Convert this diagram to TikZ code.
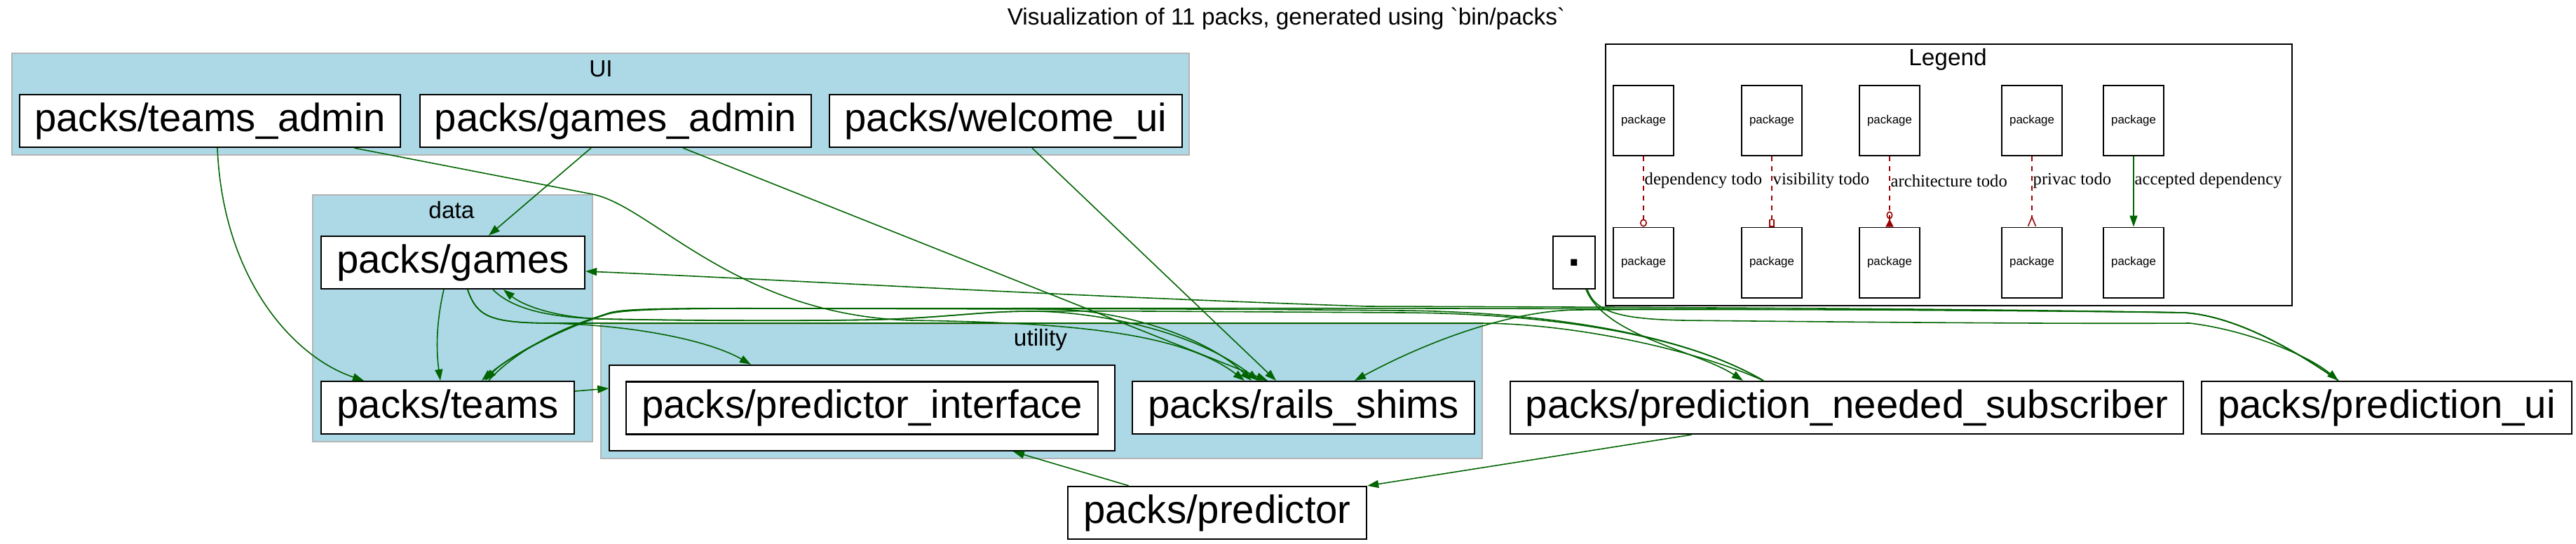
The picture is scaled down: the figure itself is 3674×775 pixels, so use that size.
\documentclass[tikz,border=0pt]{standalone}
\usepackage{fontspec}
\setmainfont{Liberation Sans}
\newfontfamily\legserif{Liberation Serif}
\usetikzlibrary{calc,arrows.meta}
\definecolor{lblue}{HTML}{ADD8E6}
\definecolor{dgreen}{HTML}{006400}
\definecolor{clgray}{HTML}{B4B4B4}
\definecolor{dred}{HTML}{9B0000}
\tikzset{
  pk/.style={draw=black, fill=white, line width=0.6pt, minimum height=0.75cm, inner sep=0pt, font=\fontsize{16}{19}\selectfont},
  lg/.style={draw=black, fill=white, line width=0.55pt, minimum width=0.86cm, minimum height=1.0cm, inner sep=0pt, font=\fontsize{4.8}{6}\selectfont},
  clbox/.style={fill=lblue, draw=clgray, line width=0.6pt},
  cllab/.style={font=\fontsize{9.5}{11}\selectfont, inner sep=0pt},
  tip/.style={-{Triangle[length=0.16cm,width=0.11cm]}},
  dep/.style={draw=dgreen, line width=0.45pt, tip},
  depn/.style={draw=dgreen, line width=0.45pt},
  ldash/.style={draw=dred, line width=0.45pt, dash pattern=on 2pt off 2pt},
  lbl/.style={font=\legserif\fontsize{7}{8}\selectfont, inner sep=0pt, anchor=west},
}
\begin{document}
\begin{tikzpicture}[x=0.01cm, y=-0.01cm]
\useasboundingbox (0,0) rectangle (3674,775);

% title
\node[cllab] (title) at (1834.5,27) {Visualization of 11 packs, generated using \textasciigrave bin/packs\textasciigrave};

% clusters
\draw[clbox] (17,76) rectangle (1696,221);
\node[cllab] (uilab) at (857,98) {UI};
\draw[clbox] (446,278) rectangle (845,630);
\node[cllab] (datalab) at (644,300) {data};
\draw[clbox] (857,462) rectangle (2114,654);
\node[cllab] (utillab) at (1484,485) {utility};

% legend
\draw[draw=black, line width=0.6pt] (2290,63) rectangle (3269,436);
\node[cllab] (leglab) at (2778,85) {Legend};

% nodes
\node[pk, minimum width=5.43cm] (ta) at (299.5,172.5) {packs/teams\_admin};
\node[pk, minimum width=5.58cm] (ga) at (878,172.5) {packs/games\_admin};
\node[pk, minimum width=5.03cm] (wu) at (1434.5,172.5) {packs/welcome\_ui};
\node[pk, minimum width=3.76cm] (games) at (646,374.5) {packs/games};
\node[pk, minimum width=3.61cm] (teams) at (638.5,581.5) {packs/teams};
\node[pk, minimum width=7.20cm, minimum height=1.22cm] (pinto) at (1229.5,582) {};
\node[pk, minimum width=6.73cm] (pint) at (1229.5,582) {packs/predictor\_interface};
\node[pk, minimum width=4.88cm] (rs) at (1859,581.5) {packs/rails\_shims};
\node[pk, minimum width=9.60cm] (pns) at (2634,581.5) {packs/prediction\_needed\_subscriber};
\node[pk, minimum width=5.28cm] (pui) at (3404,581.5) {packs/prediction\_ui};
\node[pk, minimum width=4.26cm] (pred) at (1736,731.5) {packs/predictor};
\node[pk, minimum width=0.60cm, font=\fontsize{18}{20}\selectfont\bfseries] (root) at (2245,374.5) {.};

% legend nodes
\node[lg] (l1t) at (2344,172) {package};
\node[lg] (l2t) at (2527,172) {package};
\node[lg] (l3t) at (2695,172) {package};
\node[lg] (l4t) at (2898,172) {package};
\node[lg] (l5t) at (3043,172) {package};
\node[lg] (l1b) at (2344,374.5) {package};
\node[lg] (l2b) at (2527,374.5) {package};
\node[lg] (l3b) at (2695,374.5) {package};
\node[lg] (l4b) at (2898,374.5) {package};
\node[lg] (l5b) at (3043,374.5) {package};

\draw[ldash, -{Circle[open,length=0.11cm,width=0.1cm]}] (l1t) -- (l1b);
\draw[ldash, -{Square[open,length=0.11cm,width=0.08cm]}] (l2t) -- (l2b);
\draw[ldash, -{Circle[open,length=0.11cm,width=0.09cm] Triangle[reversed,length=0.11cm,width=0.11cm]}] (l3t) -- (l3b);
\draw[ldash, -{Straight Barb[reversed,length=0.13cm,width=0.11cm]}] (l4t) -- (l4b);
\draw[draw=dgreen, line width=0.45pt, tip] (l5t) -- (l5b);
\node[lbl] (e1) at (2345,258) {dependency todo};
\node[lbl] (e2) at (2528,258) {visibility todo};
\node[lbl] (e3) at (2696,258) {architecture todo};
\node[lbl] (e4) at (2899,258) {privac todo};
\node[lbl] (e5) at (3044,258) {accepted dependency};

% edges
\draw[dep] ($(ta.south)+(10.5,0)$) .. controls (318,400) and (420,510) .. ($(teams.north)+(-119.5,0)$);
\draw[dep] ($(ta.south)+(205.5,0)$) -- (845,277) .. controls (930,294) and (1050,450) .. (1300,457) .. controls (1500,460) and (1680,470) .. ($(rs.north)+(-84,0)$);
\draw[dep] ($(ga.south)+(-35,0)$) -- ($(games.north)+(51,0)$);
\draw[dep] ($(ga.south)+(96,0)$) -- ($(rs.north)+(-51,0)$);
\draw[dep] ($(wu.south)+(37.5,0)$) -- ($(rs.north)+(-39,0)$);
\draw[dep] ($(games.south)+(-13,0)$) .. controls (622,460) and (622,500) .. ($(teams.north)+(-10.5,0)$);
\draw[dep] ($(games.south)+(21,0)$) .. controls (680,452) and (700,460) .. (780,461) .. controls (900,463) and (1010,485) .. ($(pinto.north)+(-158.5,0)$);
\draw[depn] ($(games.south)+(21,0)$) .. controls (680,452) and (700,460) .. (780,461) -- (2113,461) .. controls (2250,462) and (2420,500) .. ($(pns.north)+(-119,0)$);
\draw[dep] ($(games.south)+(57,0)$) .. controls (730,440) and (780,453) .. (860,455) .. controls (1000,458) and (1150,458) .. (1250,456) .. controls (1350,453) and (1400,444) .. (1470,444) .. controls (1560,444) and (1700,470) .. ($(rs.north)+(-64,0)$);
\draw[dep] ($(teams.north)+(58.5,0)$) .. controls (730,505) and (800,465) .. (870,447) .. controls (900,440) and (1000,440) .. (1100,440) -- (1500,441) .. controls (1600,442) and (1720,480) .. ($(rs.north)+(-74,0)$);
\draw[dep] ($(pns.north)+(-119,0)$) .. controls (2400,475) and (2200,447) .. (2000,446) .. controls (1800,445) and (1560,443) .. (1470,444) .. controls (1400,444) and (1350,453) .. (1250,456) .. controls (1150,458) and (950,457) .. (860,455) .. controls (790,453) and (745,435) .. ($(games.south)+(72,0)$);
\draw[dep] ($(pns.north)+(-119,0)$) .. controls (2400,475) and (2200,445) .. (2000,443) .. controls (1700,440) and (1300,440) .. (1100,440) .. controls (1000,440) and (900,440) .. (870,447) .. controls (800,468) and (725,510) .. ($(teams.north)+(48.5,0)$);
\draw[dep] ($(pui.north)+(-69,0)$) .. controls (3260,490) and (3180,450) .. (3115,446) .. controls (2800,440) and (2300,438) .. (1950,437) .. controls (1500,422) and (1100,398) .. ($(games.east)+(0,12.5)$);
\draw[dep] ($(pui.north)+(-69,0)$) .. controls (3260,490) and (3180,450) .. (3115,446) .. controls (2700,440) and (1800,439) .. (1300,440) .. controls (1000,440) and (900,438) .. (870,446) .. controls (800,468) and (722,510) .. ($(teams.north)+(53.5,0)$);
\draw[dep] ($(pui.north)+(-69,0)$) .. controls (3260,490) and (3180,450) .. (3115,446) .. controls (2800,441) and (2400,441) .. (2250,442) .. controls (2150,443) and (2030,490) .. ($(rs.north)+(73,0)$);
\draw[dep] ($(root.south)+(19,0)$) .. controls (2275,445) and (2310,455) .. (2400,457) .. controls (2700,460) and (2950,462) .. (3123,461) .. controls (3200,470) and (3290,505) .. ($(pui.north)+(-69,0)$);
\draw[dep] ($(root.south)+(17,0)$) .. controls (2290,480) and (2420,500) .. ($(pns.north)+(-148,0)$);
\draw[dep] ($(pns.south)+(-221,0)$) -- (pred.north east);
\draw[dep] ($(pred.north)+(-126,0)$) -- ($(pinto.south)+(215.5,0)$);
\draw[dep] ($(teams.east)+(0,-23.5)$) -- ($(pinto.west)+(0,-28)$);
\end{tikzpicture}
\end{document}
